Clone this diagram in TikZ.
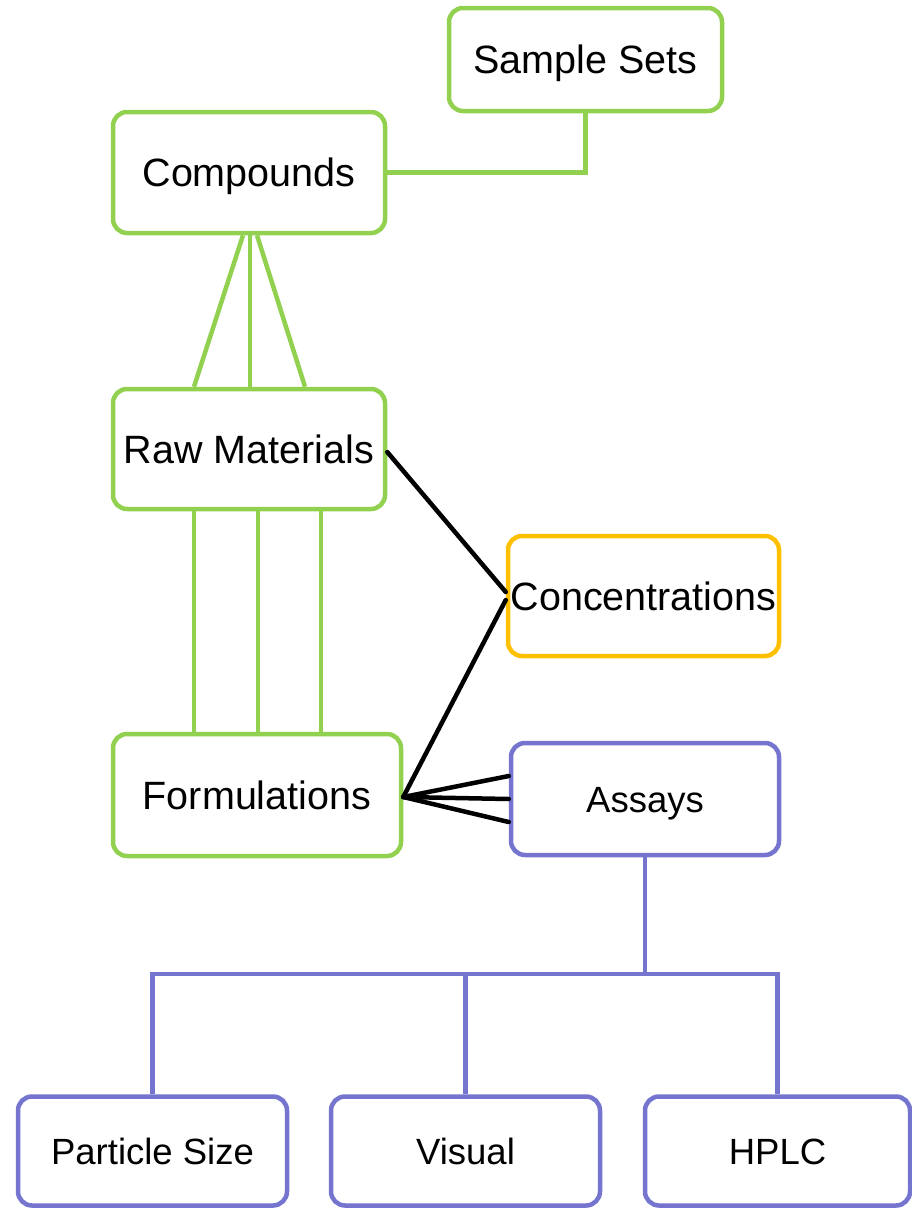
\documentclass[tikz,border=0pt]{standalone}
\usepackage{fontspec}
\setmainfont{Liberation Sans}
\usetikzlibrary{calc}
\definecolor{cgreen}{RGB}{146,208,80}
\definecolor{corange}{RGB}{255,192,0}
\definecolor{cpurple}{RGB}{117,117,207}
\begin{document}
\begin{tikzpicture}[x=1pt,y=-1pt,
  box/.style={draw, line width=4.5pt, rounded corners=14pt, inner sep=0pt,
    text depth=0pt, align=center},
  gbox/.style={box, draw=cgreen, text height=28.3pt, font=\fontsize{39.5}{44}\selectfont},
  obox/.style={box, draw=corange, text height=28.3pt, font=\fontsize{39.5}{44}\selectfont},
  pbox/.style={box, draw=cpurple, text height=26.1pt, font=\fontsize{36.5}{42}\selectfont},
  gline/.style={draw=cgreen, line width=4.5pt},
  bline/.style={draw=black, line width=4.5pt, line cap=round},
  pline/.style={draw=cpurple, line width=4.5pt}]
\useasboundingbox (0,0) rectangle (912,1208);
% boxes
\node[gbox, minimum width=273pt, minimum height=103pt] (sample) at (585.5,59.5) {Sample Sets};
\node[gbox, minimum width=272pt, minimum height=121pt] (comp) at (249,172.5) {Compounds};
\node[gbox, minimum width=272pt, minimum height=120pt] (raw) at (249,449) {Raw Materials};
\node[obox, minimum width=271pt, minimum height=120pt] (conc) at (643.5,596) {Concentrations};
\node[gbox, minimum width=288pt, minimum height=122pt] (form) at (257,795) {Formulations};
\node[pbox, minimum width=268pt, minimum height=112pt] (assay) at (645,799) {Assays};
\node[pbox, minimum width=269pt, minimum height=109pt] (part) at (152.5,1151) {Particle Size};
\node[pbox, minimum width=269pt, minimum height=109pt] (vis) at (465.5,1151) {Visual};
\node[pbox, minimum width=265pt, minimum height=109pt] (hplc) at (777.5,1151) {HPLC};
% green connectors
\draw[gline] (comp.east) -| (sample.south);
\draw[gline] ([xshift=-6pt]comp.south) -- ([xshift=-55pt]raw.north);
\draw[gline] ([xshift=1pt]comp.south) -- ([xshift=1pt]raw.north);
\draw[gline] ([xshift=8pt]comp.south) -- ([xshift=56pt]raw.north);
\draw[gline] ([xshift=-55pt]raw.south) -- ([xshift=-63pt]form.north);
\draw[gline] ([xshift=9pt]raw.south) -- ([xshift=1pt]form.north);
\draw[gline] ([xshift=72pt]raw.south) -- ([xshift=64pt]form.north);
% black connectors
\draw[bline] ([yshift=-3pt]raw.east) -- ([yshift=4pt]conc.west);
\draw[bline] ([yshift=-4pt]conc.west) -- ([yshift=-2pt]form.east);
\draw[bline] ([yshift=-2pt]form.east) -- ([yshift=23pt]assay.west);
\draw[bline] ([yshift=-2pt]form.east) -- (assay.west);
\draw[bline] ([yshift=-2pt]form.east) -- ([yshift=-23pt]assay.west);
% purple connectors
\coordinate (j) at (645,974);
\draw[pline] (assay.south) -- (j);
\draw[pline] (j) -| (part.north);
\draw[pline] (j) -| (hplc.north);
\draw[pline] (vis.north) -- (vis.north |- j);
\end{tikzpicture}
\end{document}
